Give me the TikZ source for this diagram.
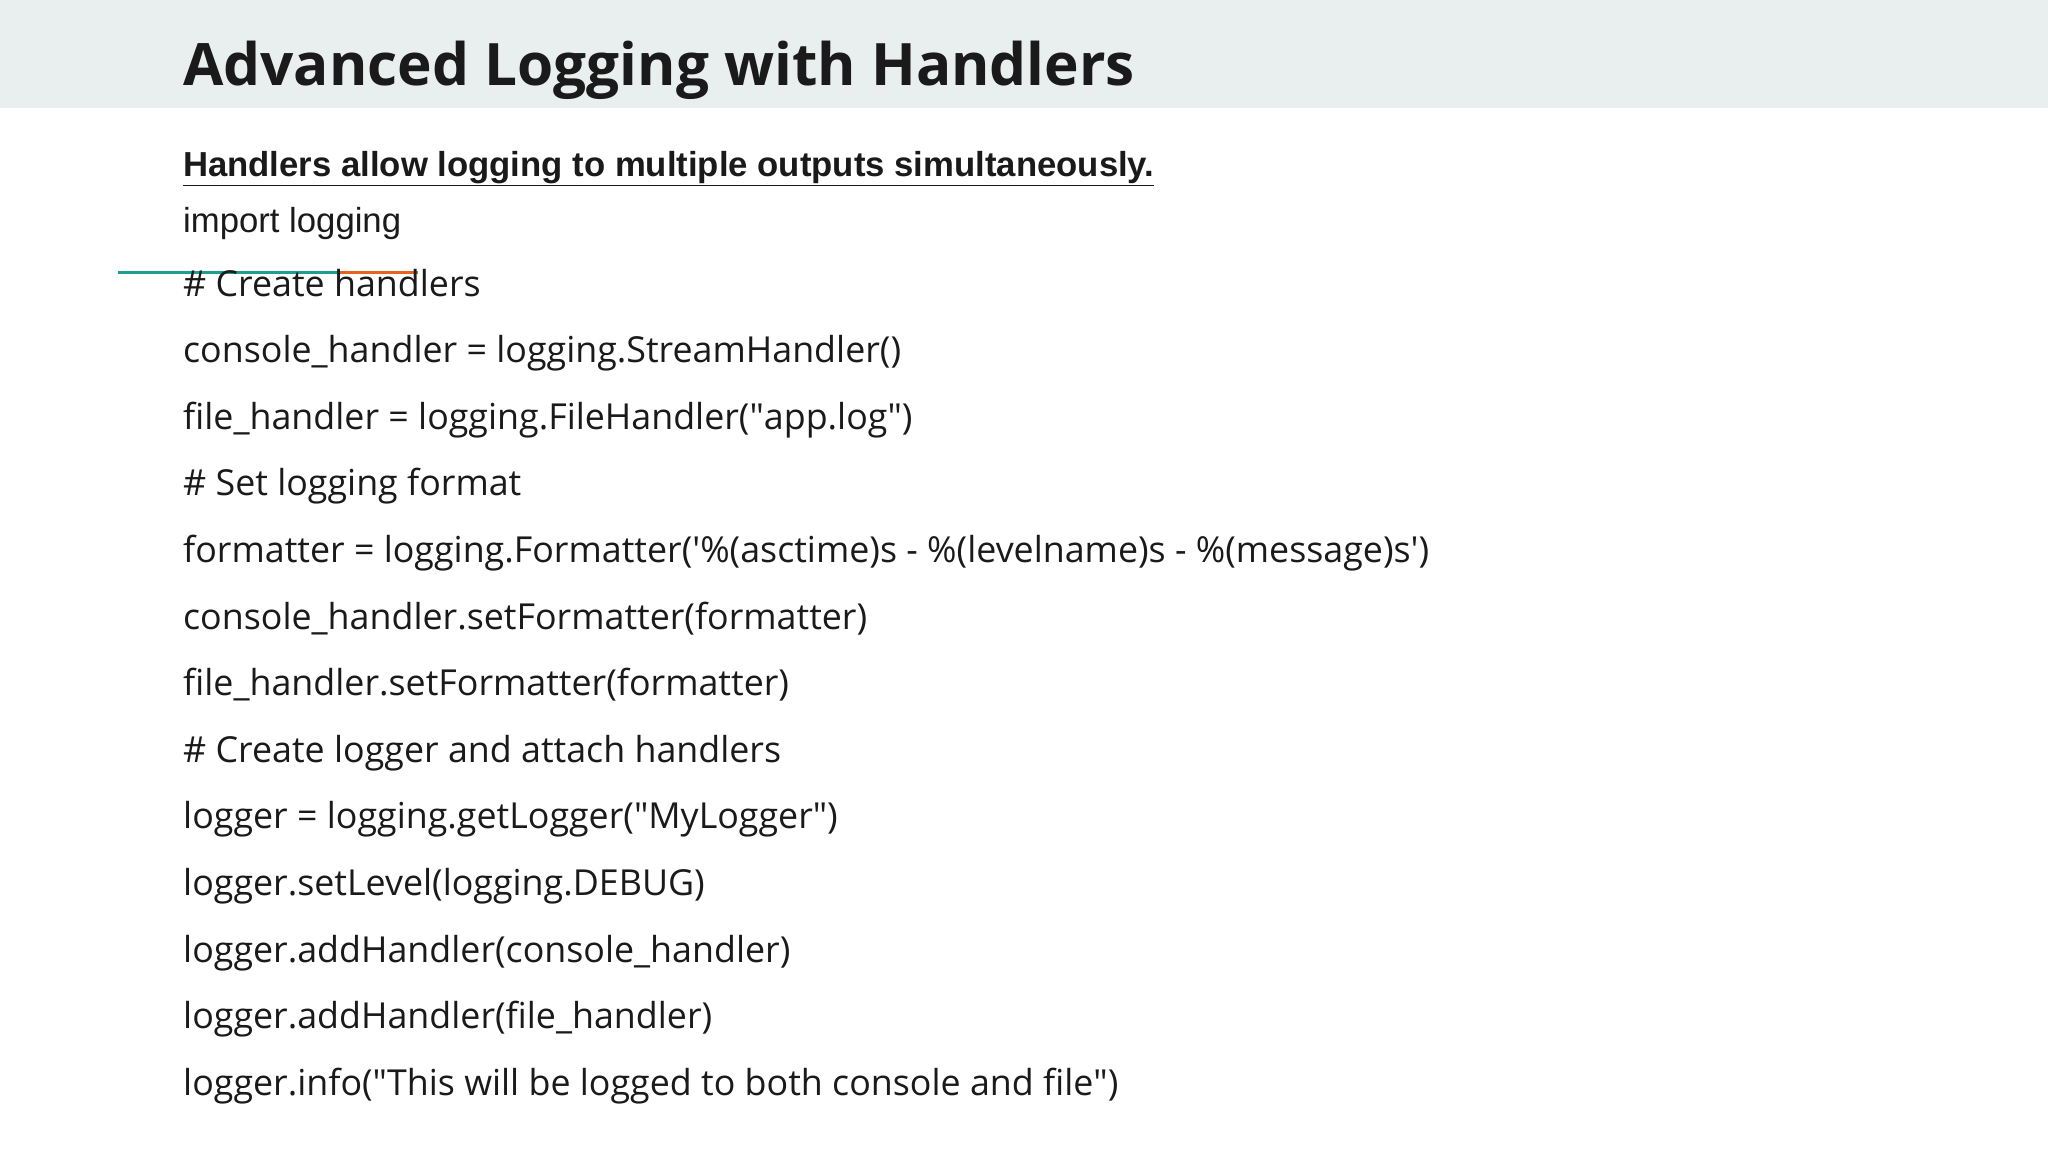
\documentclass[tikz,border=0pt]{standalone}
\usepackage{fontspec}
\setmainfont{Open Sans}
\newfontfamily\arialf{Liberation Sans}
\definecolor{hdr}{HTML}{E9EEEE}
\definecolor{txt}{HTML}{1A1A1A}
\definecolor{teal}{HTML}{1F9E8E}
\definecolor{orng}{HTML}{E8641E}
\newcommand{\dq}{\textquotedbl}
\newcommand{\sq}{\textquotesingle}
\begin{document}
\begin{tikzpicture}[x=1pt,y=-1pt,
  code/.style={anchor=base west,inner sep=0pt,text=txt,font=\fontsize{35.8}{42}\selectfont}]
\useasboundingbox (0,0) rectangle (2048,1152);
\fill[white] (0,0) rectangle (2048,1152);
\fill[hdr] (0,0) rectangle (2048,108);
\node[code,font=\fontsize{58.5}{70}\selectfont\bfseries] (title) at (183,85) {Advanced Logging with Handlers};
\node[code,font=\arialf\fontsize{34.7}{40}\selectfont\bfseries] (sub) at (183,176) {\underline{Handlers allow logging to multiple outputs simultaneously.}};
\node[code,font=\arialf\fontsize{34.7}{40}\selectfont] (imp) at (183,232) {import logging};
\coordinate (l1) at (118,272);
\coordinate (l2) at (338,272);
\coordinate (l3) at (418,272);
\draw[teal,line width=3pt] (l1) -- (l2);
\draw[orng,line width=3pt] (l2) -- (l3);
\foreach \t [count=\i from 0] in {%
{\# Create handlers},
{console\_handler = logging.StreamHandler()},
{file\_handler = logging.FileHandler(\dq app.log\dq)},
{\# Set logging format},
{formatter = logging.Formatter(\sq\%(asctime)s - \%(levelname)s - \%(message)s\sq)},
{console\_handler.setFormatter(formatter)},
{file\_handler.setFormatter(formatter)},
{\# Create logger and attach handlers},
{logger = logging.getLogger(\dq MyLogger\dq)},
{logger.setLevel(logging.DEBUG)},
{logger.addHandler(console\_handler)},
{logger.addHandler(file\_handler)},
{logger.info(\dq This will be logged to both console and file\dq)}}
{\node[code] (c\i) at (183,{296+66.6*\i}) {\t};}
\end{tikzpicture}
\end{document}
